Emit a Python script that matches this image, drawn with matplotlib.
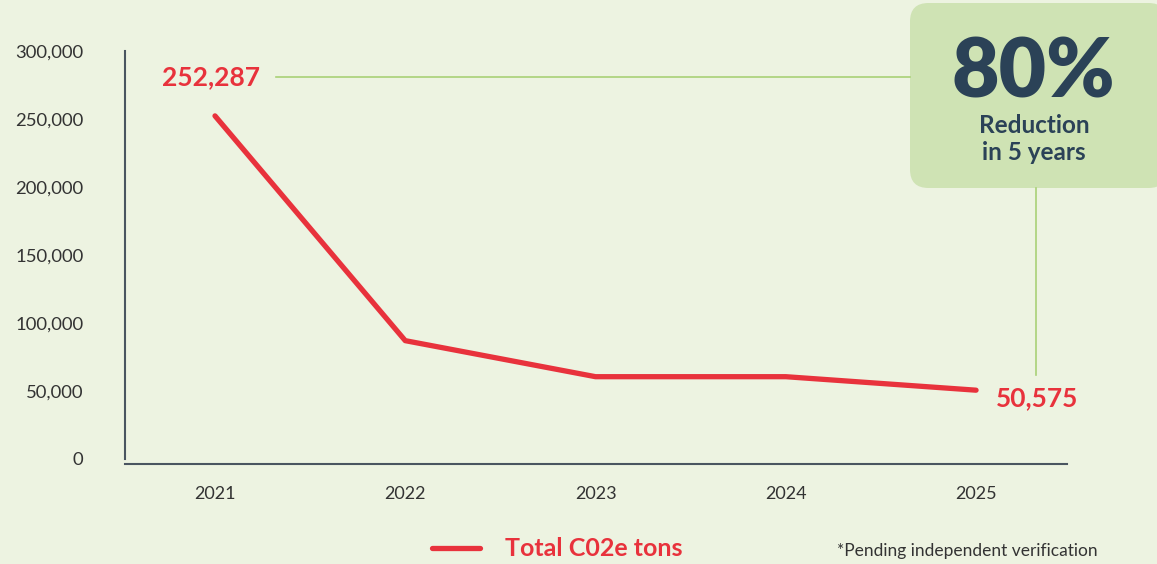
import matplotlib.pyplot as plt
from matplotlib.patches import FancyBboxPatch
from matplotlib.lines import Line2D

# yearly emissions, tonnes of CO2e
years = [2021, 2022, 2023, 2024, 2025]
emissions = [252287, 87000, 60500, 60500, 50575]
yticks = [0, 50000, 100000, 150000, 200000, 250000, 300000]

bg = '#edf3e1'
red = '#e8323c'
navy = '#2b4257'
lime = '#a9d177'
box_green = '#cfe3b4'

fig = plt.figure(figsize=(11.57, 5.64), dpi=100, facecolor=bg)
W, H = 1157, 564

def fx(px):
    return px / W

def fy(py):
    return 1 - py / H

ax = fig.add_axes([fx(125), fy(464), fx(1067) - fx(125), fy(51) - fy(464)])
ax.set_facecolor(bg)

ax.plot(years, emissions, color=red, lw=3.8, solid_capstyle='round',
        solid_joinstyle='round', zorder=3)

ax.set_xlim(2020.527, 2025.478)
ax.set_ylim(-3700, 300000)
ax.set_xticks(years)
ax.set_yticks(yticks)
ax.set_yticklabels([f'{v:,}' for v in yticks])
ax.tick_params(axis='y', length=0, pad=30, labelsize=13.3, labelcolor='#333333')
ax.tick_params(axis='x', length=0, pad=16, labelsize=13, labelcolor='#333333')
for lab in ax.get_xticklabels() + ax.get_yticklabels():
    lab.set_family('Lato')

for s in ['top', 'right']:
    ax.spines[s].set_visible(False)
for s in ['left', 'bottom']:
    ax.spines[s].set_color('#4a5560')
    ax.spines[s].set_linewidth(1.5)
ax.spines['left'].set_bounds(0, 300000)

# first and last values
ax.annotate(f'{emissions[0]:,}', (years[0], emissions[0]), xytext=(-3, 28),
            textcoords='offset points', ha='center', va='center',
            fontsize=19, fontweight='bold', color=red, family='Lato')
ax.annotate(f'{emissions[-1]:,}', (years[-1], emissions[-1]), xytext=(44, -6),
            textcoords='offset points', ha='center', va='center',
            fontsize=19, fontweight='bold', color=red, family='Lato')

# connector lines to the callout box
fig.add_artist(Line2D([fx(276), fx(910)], [fy(77), fy(77)], color=lime, lw=1.2))
fig.add_artist(Line2D([fx(1036), fx(1036)], [fy(188), fy(375)], color=lime, lw=1.2))

box = FancyBboxPatch((fx(910), fy(188)), fx(1157 + 10) - fx(910), fy(3) - fy(188),
                     boxstyle='round,pad=0,rounding_size=0.016',
                     transform=fig.transFigure, facecolor=box_green,
                     edgecolor='none', mutation_aspect=W / H)
fig.add_artist(box)
fig.text(fx(1033), fy(74), '80%', ha='center', va='center', fontsize=59,
         fontweight='heavy', color=navy, family='Lato')
fig.text(fx(1034), fy(126), 'Reduction', ha='center', va='center', fontsize=17.5,
         fontweight='bold', color=navy, family='Lato')
fig.text(fx(1034), fy(153), 'in 5 years', ha='center', va='center', fontsize=17.5,
         fontweight='bold', color=navy, family='Lato')

# legend and footnote
fig.add_artist(Line2D([fx(432), fx(480)], [fy(548), fy(548)], color=red, lw=3.8,
                      solid_capstyle='round'))
fig.text(fx(505), fy(549), 'Total C02e tons', ha='left', va='center', fontsize=18,
         fontweight='bold', color=red, family='Lato')
fig.text(fx(1098), fy(551), '*Pending independent verification', ha='right',
         va='center', fontsize=12.5, color='#333333', family='Lato')

fig.savefig('out.png', dpi=100, facecolor=bg)
